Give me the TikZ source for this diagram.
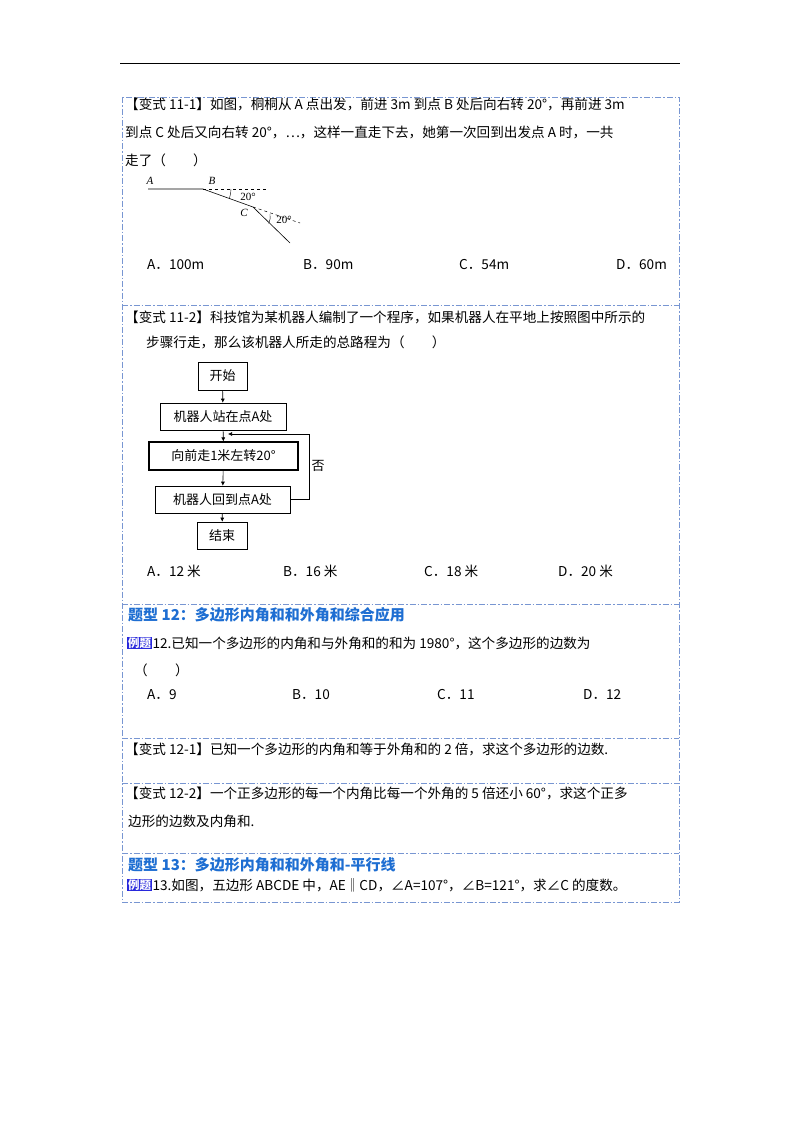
\documentclass[tikz,border=0pt]{standalone}
\usepackage{fontspec}
\setmainfont{Noto Sans CJK SC}
\newfontfamily\lat{Liberation Serif}
\usetikzlibrary{arrows.meta}
\definecolor{bd}{RGB}{120,150,210}
\definecolor{hd}{RGB}{30,110,210}
\definecolor{badge}{RGB}{40,40,220}
\begin{document}
\begin{tikzpicture}[x=1pt,y=-1pt,
  t/.style={anchor=west,inner sep=0pt,font=\fontsize{13.6}{15}\selectfont},
  hdg/.style={anchor=west,inner sep=0pt,font=\fontsize{15}{17}\selectfont\bfseries,text=hd},
  bdr/.style={draw=bd,line width=0.8pt,dash pattern=on 6pt off 2pt on 1.5pt off 2pt},
  fb/.style={draw,line width=0.6pt,inner sep=0pt,font=\fontsize{13}{15}\selectfont},
  bdg/.style={fill=badge,text=white,inner sep=1pt,anchor=west,font=\fontsize{11.5}{12}\selectfont\bfseries},
  lbl/.style={font=\lat\itshape\fontsize{11}{12}\selectfont,inner sep=0pt},
  arr/.style={-{Latex[length=4pt,width=4pt]},line width=0.6pt}]
\useasboundingbox (0,0) rectangle (800,1132);
\fill[white] (0,0) rectangle (800,1132);
\draw[line width=0.8pt] (120,63) -- (680,63);
% frames
\draw[bdr] (122,97) rectangle (679,902);
\foreach \yy in {305,604,738,783,853} \draw[bdr] (122,\yy) -- (679,\yy);
% section 1
\node[t] (l1) at (125,104) {【变式 11-1】如图，桐桐从 A 点出发，前进 3m 到点 B 处后向右转 20°，再前进 3m};
\node[t] (l2) at (125,132) {到点 C 处后又向右转 20°，…，这样一直走下去，她第一次回到出发点 A 时，一共};
\node[t] (l3) at (125,160) {走了（　　）};
\coordinate (A) at (148,189);
\coordinate (B) at (203,189);
\coordinate (C) at (253,207);
\coordinate (E) at (290,243);
\draw[line width=0.6pt] (A) -- (B) -- (C) -- (E);
\draw[dashed,line width=0.5pt] (B) -- (267,189);
\draw[dashed,line width=0.5pt] (C) -- (300,223);
\draw[line width=0.4pt] (231,189) arc (0:20:28);
\draw[line width=0.4pt] (270,214) arc (-10:25:16);
\node[lbl] (la) at (150,181) {A};
\node[lbl] (lb) at (212,181) {B};
\node[lbl] (lc) at (244,213) {C};
\node[font=\lat\fontsize{11}{12}\selectfont,inner sep=0pt] (d1) at (248,197) {20°};
\node[font=\lat\fontsize{11}{12}\selectfont,inner sep=0pt] (d2) at (284,220) {20°};
\node[t] (o1) at (147,265) {A．100m};
\node[t] (o2) at (303,265) {B．90m};
\node[t] (o3) at (459,265) {C．54m};
\node[t] (o4) at (616,265) {D．60m};
% section 2
\node[t] (m1) at (125,317) {【变式 11-2】科技馆为某机器人编制了一个程序，如果机器人在平地上按照图中所示的};
\node[t] (m2) at (146,342) {步骤行走，那么该机器人所走的总路程为（　　）};
\node[fb,minimum width=49pt,minimum height=28pt] (s) at (222.5,376) {开始};
\node[fb,minimum width=126pt,minimum height=27pt] (b1) at (223,416.5) {机器人站在点\textit{A}处};
\node[fb,line width=1.1pt,minimum width=149pt,minimum height=28pt] (b2) at (223.5,456) {向前走1米左转20°};
\node[fb,minimum width=135pt,minimum height=27pt] (b3) at (222.5,499.5) {机器人回到点\textit{A}处};
\node[fb,minimum width=50pt,minimum height=27pt] (e) at (222,535.5) {结束};
\draw[arr] (s) -- (b1);
\draw[arr] (b1) -- (b2);
\draw[arr] (b2) -- (b3);
\draw[arr] (b3) -- (e);
\coordinate (lp) at (309,434);
\draw[arr] (b3.east) -| (lp) -- (228,434);
\node[font=\fontsize{13}{15}\selectfont,inner sep=0pt] (no) at (318,466) {否};
\node[t] (p1) at (147,571) {A．12 米};
\node[t] (p2) at (283,571) {B．16 米};
\node[t] (p3) at (424,571) {C．18 米};
\node[t] (p4) at (558,571) {D．20 米};
% section 3
\node[hdg] (h12) at (128,615) {题型 12：多边形内角和和外角和综合应用};
\node[bdg] (bd12) at (127,643) {例题};
\node[t] (q1) at (bd12.east) {12.已知一个多边形的内角和与外角和的和为 1980°，这个多边形的边数为};
\node[t] (q2) at (134,670) {（　　）};
\node[t] (r1) at (147,695) {A．9};
\node[t] (r2) at (292,695) {B．10};
\node[t] (r3) at (437,695) {C．11};
\node[t] (r4) at (583,695) {D．12};
\node[t] (v1) at (125,749) {【变式 12-1】已知一个多边形的内角和等于外角和的 2 倍，求这个多边形的边数.};
\node[t] (v2) at (125,793) {【变式 12-2】一个正多边形的每一个内角比每一个外角的 5 倍还小 60°，求这个正多};
\node[t] (v3) at (128,821) {边形的边数及内角和.};
\node[hdg] (h13) at (128,865) {题型 13：多边形内角和和外角和-平行线};
\node[bdg] (bd13) at (127,885) {例题};
\node[t] (w1) at (bd13.east) {13.如图，五边形 ABCDE 中，AE‖CD，∠A=107°，∠B=121°，求∠C 的度数。};
\end{tikzpicture}
\end{document}
